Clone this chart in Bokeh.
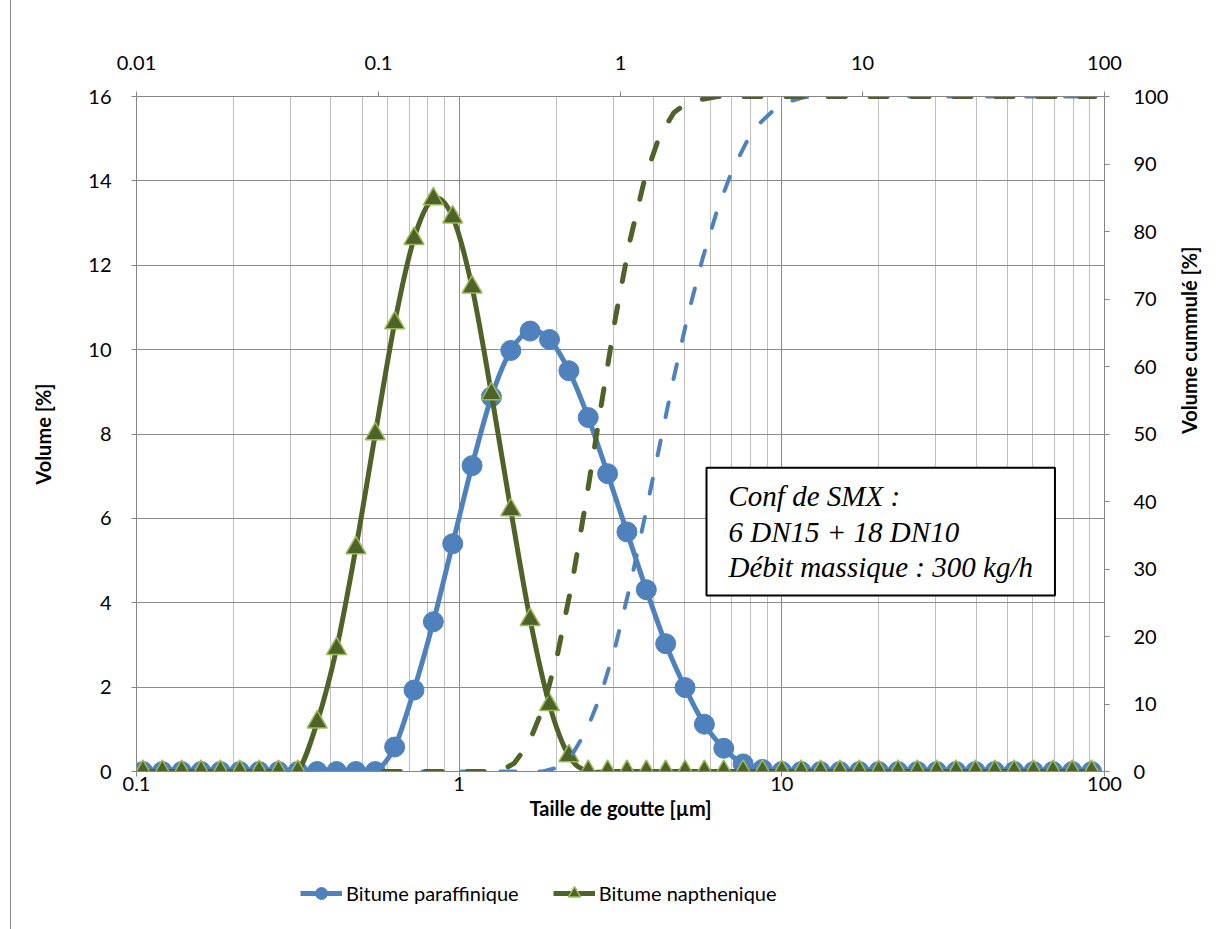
import math
import numpy as np
from bokeh.plotting import figure
from bokeh.layouts import column
from bokeh.models import (Range1d, LogAxis, LinearAxis, LogScale, FixedTicker,
                          CustomJSTickFormatter, ColumnDataSource, Legend, LegendItem, Label)
from bokeh.embed import file_html
from bokeh.resources import INLINE

# ---------------- data ----------------
sizes = [0.1047, 0.1202, 0.1380, 0.1585, 0.1820, 0.2089, 0.2399, 0.2754, 0.3162, 0.3631,
         0.4169, 0.4786, 0.5495, 0.6310, 0.7244, 0.8318, 0.9550, 1.0965, 1.2589, 1.4454,
         1.6596, 1.9055, 2.1878, 2.5119, 2.8840, 3.3113, 3.8019, 4.3652, 5.0119, 5.7544,
         6.6069, 7.5858, 8.7096, 10.000, 11.482, 13.183, 15.136, 17.378, 19.953, 22.909,
         26.303, 30.200, 34.674, 39.811, 45.709, 52.481, 60.256, 69.183, 79.433, 91.201]

vol_paraffinique = [0, 0, 0, 0, 0, 0, 0, 0, 0, 0,
                    0, 0, 0, 0.58, 1.93, 3.55, 5.40, 7.25, 8.88, 9.98,
                    10.44, 10.24, 9.50, 8.39, 7.06, 5.68, 4.31, 3.03, 1.99, 1.12,
                    0.55, 0.18, 0.05, 0, 0, 0, 0, 0, 0, 0,
                    0, 0, 0, 0, 0, 0, 0, 0, 0, 0]

vol_napthenique = [0, 0, 0, 0, 0, 0, 0, 0, 0, 1.17,
                   2.91, 5.30, 8.00, 10.63, 12.63, 13.57, 13.14, 11.48, 8.95, 6.20,
                   3.60, 1.58, 0.37, 0, 0, 0, 0, 0, 0, 0,
                   0, 0, 0, 0, 0, 0, 0, 0, 0, 0,
                   0, 0, 0, 0, 0, 0, 0, 0, 0, 0]

cum_paraffinique = [0, 0, 0, 0, 0, 0, 0, 0, 0, 0,
                    0, 0, 0.6, 2.5, 6.1, 11.5, 18.7, 27.6, 37.6, 48.0,
                    58.3, 67.8, 76.1, 83.2, 88.9, 93.2, 96.2, 98.2, 99.3, 99.9,
                    100, 100, 100, 100, 100, 100, 100, 100, 100, 100,
                    100, 100, 100, 100, 100, 100, 100, 100, 100, 100]

cum_napthenique = [0, 0, 0, 0, 0, 0, 0, 0, 0, 1.2,
                   4.1, 9.4, 17.4, 28.0, 40.6, 54.2, 67.4, 78.8, 87.8, 94.0,
                   97.6, 99.2, 99.6, 100, 100, 100, 100, 100, 100, 100,
                   100, 100, 100, 100, 100, 100, 100, 100, 100, 100,
                   100, 100, 100, 100, 100, 100, 100, 100, 100, 100]

series_names = ["Bitume paraffinique", "Bitume napthenique"]

bottom_ticks = [0.1, 1, 10, 100]
bottom_minor = [m * 10.0 ** e for e in (-1, 0, 1) for m in range(2, 10)]
top_ticks = [0.01, 0.1, 1, 10, 100]
left_ticks = [0, 2, 4, 6, 8, 10, 12, 14, 16]
right_ticks = [0, 10, 20, 30, 40, 50, 60, 70, 80, 90, 100]

BLUE = "#4F81BD"
GREEN = "#4F6228"
LGREEN = "#9BBB59"
AX = "#868686"
FONT = "Lato"

# ---------------- main figure ----------------
p = figure(width=1216, height=850, x_axis_type="log", x_range=Range1d(0.1, 100),
           y_range=Range1d(0, 16), output_backend="svg", toolbar_location=None,
           min_border_left=136, min_border_right=112, min_border_top=96, min_border_bottom=79)
p.outline_line_color = None
p.background_fill_color = "white"
p.border_fill_color = None

p.extra_x_ranges = {"top": Range1d(0.01, 100)}
p.extra_x_scales = {"top": LogScale()}
p.extra_y_ranges = {"right": Range1d(0, 100)}

fmt = CustomJSTickFormatter(code="return tick.toString();")

def style_axis(ax):
    ax.axis_line_color = AX
    ax.major_tick_line_color = AX
    ax.minor_tick_line_color = None
    ax.major_tick_in = 0
    ax.major_tick_out = 5
    ax.major_label_text_font = FONT
    ax.major_label_text_font_size = "20px"
    ax.major_label_text_color = "black"
    ax.axis_label_text_font = FONT
    ax.axis_label_text_font_size = "20px"
    ax.axis_label_text_font_style = "bold"
    ax.axis_label_text_color = "black"

xb = p.xaxis[0]
xb.ticker = FixedTicker(ticks=bottom_ticks, minor_ticks=bottom_minor)
xb.formatter = fmt
style_axis(xb)
xb.major_label_standoff = 0
xb.axis_label = "Taille de goutte [µm]"
xb.axis_label_standoff = 2

yl = p.yaxis[0]
yl.ticker = FixedTicker(ticks=left_ticks)
style_axis(yl)
yl.major_label_standoff = 20
yl.axis_label = "Volume [%]"
yl.axis_label_standoff = 30

xt = LogAxis(x_range_name="top", ticker=FixedTicker(ticks=top_ticks), formatter=fmt)
style_axis(xt)
xt.major_label_standoff = 22
p.add_layout(xt, "above")

yr = LinearAxis(y_range_name="right", ticker=FixedTicker(ticks=right_ticks))
style_axis(yr)
yr.major_label_standoff = 24
yr.axis_label = "Volume cummulé [%]"
yr.axis_label_standoff = 18
if "axis_label_orientation" in yr.properties():
    yr.axis_label_orientation = math.pi / 2
p.add_layout(yr, "right")

p.xgrid.grid_line_color = "#8C8C8C"
p.xgrid.minor_grid_line_color = "#BEBEBE"
p.ygrid.grid_line_color = "#8C8C8C"

# ---------------- smooth (Excel-like) curves ----------------
def bezier_source(xs, ys):
    lx = np.log10(np.asarray(xs, float))
    y = np.asarray(ys, float)
    n = len(y)
    i = np.arange(n - 1)
    ip = np.maximum(i - 1, 0)
    i2 = np.minimum(i + 2, n - 1)
    return ColumnDataSource(dict(
        x0=10 ** lx[i], y0=y[i], x1=10 ** lx[i + 1], y1=y[i + 1],
        cx0=10 ** (lx[i] + (lx[i + 1] - lx[ip]) / 6), cy0=y[i] + (y[i + 1] - y[ip]) / 6,
        cx1=10 ** (lx[i + 1] - (lx[i2] - lx[i]) / 6), cy1=y[i + 1] - (y[i2] - y[i]) / 6))

bk = dict(x0="x0", y0="y0", x1="x1", y1="y1", cx0="cx0", cy0="cy0", cx1="cx1", cy1="cy1")

blue_line = dict(line_color=BLUE, line_width=5)
blue_mark = dict(marker="circle", fill_color=BLUE, line_color=BLUE)
green_line = dict(line_color=GREEN, line_width=5)
green_mark = dict(marker="triangle", fill_color=GREEN, line_color=LGREEN, line_width=1.5)

p.bezier(source=bezier_source(sizes, vol_paraffinique), line_cap="round", **bk, **blue_line)
p.scatter(sizes, vol_paraffinique, size=20, **blue_mark)
p.bezier(source=bezier_source(sizes, vol_napthenique), line_cap="round", **bk, **green_line)
p.scatter(sizes, vol_napthenique, size=20, **green_mark)

p.line(sizes, cum_paraffinique, x_range_name="top", y_range_name="right",
       line_color=BLUE, line_width=4, line_dash="15 24", line_cap="round")
p.line(sizes, cum_napthenique, x_range_name="top", y_range_name="right",
       line_color=GREEN, line_width=5, line_dash="17 25", line_cap="round")

# ---------------- annotation box ----------------
box_text = "Conf de SMX :\n6 DN15 + 18 DN10\nDébit massique : 300 kg/h"
label_kw = dict(x=570, y=176, x_units="screen", y_units="screen", text=box_text,
                anchor="bottom_left",
                text_font="Liberation Serif", text_font_style="italic",
                text_font_size="29px", text_line_height=1.12, text_color="black",
                border_line_color="black", border_line_width=2,
                background_fill_color="white")
try:
    box = Label(padding=(22, 12), **label_kw)
except Exception:
    box = Label(padding=14, **label_kw)
p.add_layout(box)

# ---------------- legend strip (below the chart) ----------------
# The strip's frame is aligned with the main frame; its ranges keep the
# series themselves out of view so that only the legend shows.
q = figure(width=1216, height=79, x_range=Range1d(-2, -1), y_range=Range1d(-2, -1),
           output_backend="svg", toolbar_location=None,
           x_axis_location=None, y_axis_location=None, min_border=0)
q.outline_line_color = None
q.grid.visible = False
q.border_fill_color = None
q.background_fill_color = None

lb = q.line(sizes, vol_paraffinique, **blue_line)
sb = q.scatter(sizes, vol_paraffinique, size=20, **blue_mark)
lg = q.line(sizes, vol_napthenique, **green_line)
sg = q.scatter(sizes, vol_napthenique, size=20, **green_mark)

legend = Legend(items=[LegendItem(label=series_names[0], renderers=[lb, sb]),
                       LegendItem(label=series_names[1], renderers=[lg, sg])],
                orientation="horizontal", location=(164, 21),
                border_line_color=None, background_fill_alpha=0,
                padding=0, margin=0, spacing=34, label_standoff=4,
                glyph_width=42, glyph_height=30, label_height=30,
                label_text_font=FONT, label_text_font_size="20px",
                label_text_color="black")
q.add_layout(legend)

# chart-area border on the left edge (as in the source picture)
layout = column(p, q, spacing=0,
                styles={"background": "linear-gradient(#8C8C8C, #8C8C8C) 10px 0px / 1px 100% no-repeat, white"})
open("out.html", "w").write(file_html(layout, INLINE))
